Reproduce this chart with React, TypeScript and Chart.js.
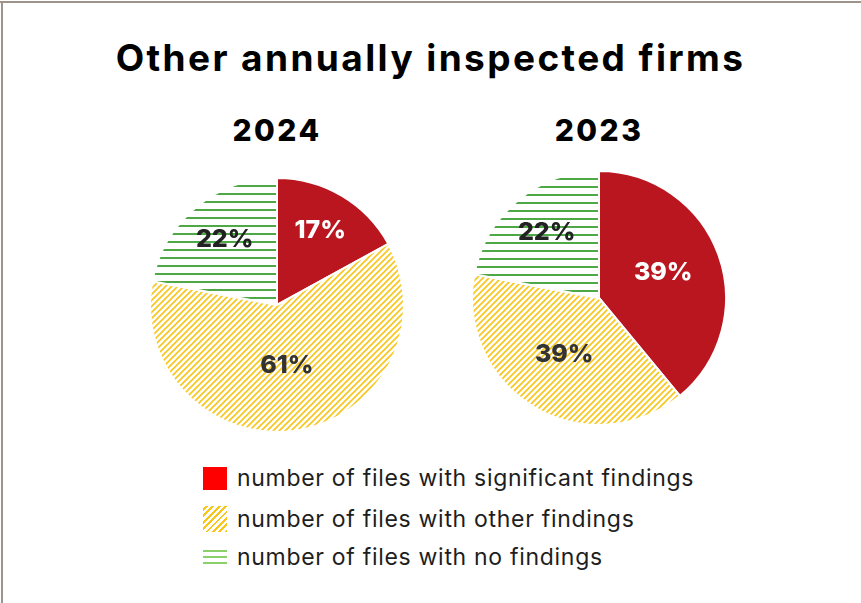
import React, { useEffect, useRef } from "react";
import { Chart, registerables } from "chart.js";

Chart.register(...registerables);

const titleText = "Other annually inspected firms";
const categories = [
  "number of files with significant findings",
  "number of files with other findings",
  "number of files with no findings",
];
const years = ["2024", "2023"];
const values2024 = [17, 61, 22];
const values2023 = [39, 39, 22];

const RED = "#B9161F";
const YELLOW = "#F8C61A";
const GREEN = "#4FA846";
const FONT = "Inter, 'Open Sans', sans-serif";

function greenStripes(ctx: CanvasRenderingContext2D) {
  const c = document.createElement("canvas");
  c.width = 8;
  c.height = 8;
  const g = c.getContext("2d")!;
  g.fillStyle = "#ffffff";
  g.fillRect(0, 0, 8, 8);
  g.fillStyle = GREEN;
  g.fillRect(0, 3, 8, 2);
  return ctx.createPattern(c, "repeat")!;
}

function yellowStripes(ctx: CanvasRenderingContext2D) {
  const s = 6;
  const c = document.createElement("canvas");
  c.width = s;
  c.height = s;
  const g = c.getContext("2d")!;
  g.fillStyle = "#ffffff";
  g.fillRect(0, 0, s, s);
  g.strokeStyle = YELLOW;
  g.lineWidth = 1.6;
  g.beginPath();
  g.moveTo(-1, s + 1);
  g.lineTo(s + 1, -1);
  g.moveTo(-1, 1);
  g.lineTo(1, -1);
  g.moveTo(s - 1, s + 1);
  g.lineTo(s + 1, s - 1);
  g.stroke();
  return ctx.createPattern(c, "repeat")!;
}

const labelColors = ["#ffffff", "#333333", "#222222"];

const pctLabels = {
  id: "pctLabels",
  afterDatasetsDraw(chart: any) {
    const ctx = chart.ctx as CanvasRenderingContext2D;
    const meta = chart.getDatasetMeta(0);
    const data = chart.data.datasets[0].data as number[];
    ctx.save();
    ctx.font = `800 25px ${FONT}`;
    ctx.textAlign = "center";
    ctx.textBaseline = "middle";
    meta.data.forEach((arc: any, i: number) => {
      const p = arc.getProps(["x", "y", "startAngle", "endAngle", "outerRadius"], true);
      const a = p.endAngle - p.startAngle;
      const mid = (p.startAngle + p.endAngle) / 2;
      // sector centroid distance, but never closer than half the radius
      const centroid = (4 * Math.sin(a / 2)) / (3 * a);
      const r = p.outerRadius * Math.max(centroid * 1.05, 0.5);
      ctx.fillStyle = labelColors[i];
      ctx.fillText(`${data[i]}%`, p.x + Math.cos(mid) * r, p.y + Math.sin(mid) * r - 2);
    });
    ctx.restore();
  },
};

function Pie({ values }: { values: number[] }) {
  const ref = useRef<HTMLCanvasElement>(null);
  useEffect(() => {
    const canvas = ref.current!;
    const ctx = canvas.getContext("2d")!;
    const chart = new Chart(canvas, {
      type: "pie",
      data: {
        labels: categories,
        datasets: [
          {
            data: values,
            backgroundColor: [RED, yellowStripes(ctx), greenStripes(ctx)],
            borderColor: "#ffffff",
            borderWidth: 2,
          },
        ],
      },
      options: {
        responsive: false,
        maintainAspectRatio: false,
        animation: false,
        devicePixelRatio: 1,
        radius: 127,
        layout: { padding: 0 },
        plugins: {
          legend: { display: false },
          tooltip: { enabled: false },
        },
      } as any,
      plugins: [pctLabels],
    });
    return () => chart.destroy();
  }, [values]);
  return <canvas ref={ref} width={262} height={262} style={{ width: 262, height: 262, display: "block" }} />;
}

export default function App() {
  const pies = [
    { year: years[0], values: values2024, cx: 277, cy: 305, ylabel: 130 },
    { year: years[1], values: values2023, cx: 599, cy: 298, ylabel: 130 },
  ];
  const swatches = [
    { background: "#FF0000", height: 23 },
    {
      background: `repeating-linear-gradient(-45deg, ${YELLOW} 0px, ${YELLOW} 2px, #ffffff 2px, #ffffff 4.5px)`,
      height: 26,
    },
    {
      background: `repeating-linear-gradient(180deg, #ffffff 0px, #ffffff 1px, #8BD06A 1px, #8BD06A 3px, #ffffff 3px, #ffffff 6px)`,
      height: 16,
    },
  ];
  const rowY = [478, 519, 557];
  return (
    <div
      style={{
        position: "absolute",
        left: 0,
        top: 0,
        width: 861,
        height: 603,
        overflow: "hidden",
        background: "#ffffff",
        fontFamily: FONT,
      }}
    >
      <div style={{ position: "absolute", left: 0, top: 1, width: 861, height: 2, background: "#9E948C" }} />
      <div style={{ position: "absolute", left: 1, top: 1, width: 2, height: 602, background: "#9E948C" }} />
      <div
        style={{
          position: "absolute",
          left: 0,
          width: 861,
          top: 58 - 25,
          height: 50,
          lineHeight: "50px",
          textAlign: "center",
          fontWeight: 700,
          fontSize: 37,
          letterSpacing: 2.4,
          color: "#000",
        }}
      >
        {titleText}
      </div>
      {pies.map((p) => (
        <React.Fragment key={p.year}>
          <div
            style={{
              position: "absolute",
              left: p.cx - 100,
              width: 200,
              top: p.ylabel - 20,
              height: 40,
              lineHeight: "40px",
              textAlign: "center",
              fontWeight: 800,
              fontSize: 30,
              letterSpacing: 2.5,
              color: "#000",
            }}
          >
            {p.year}
          </div>
          <div style={{ position: "absolute", left: p.cx - 131, top: p.cy - 131 }}>
            <Pie values={p.values} />
          </div>
        </React.Fragment>
      ))}
      {categories.map((c, i) => (
        <div key={c} style={{ position: "absolute", left: 203, top: rowY[i] - 16, height: 32, display: "flex", alignItems: "center" }}>
          <div style={{ width: 24, height: swatches[i].height, background: swatches[i].background, flex: "none" }} />
          <div style={{ marginLeft: 10, fontSize: 23, letterSpacing: 0.7, color: "#1E1E1E", whiteSpace: "nowrap" }}>{c}</div>
        </div>
      ))}
    </div>
  );
}
